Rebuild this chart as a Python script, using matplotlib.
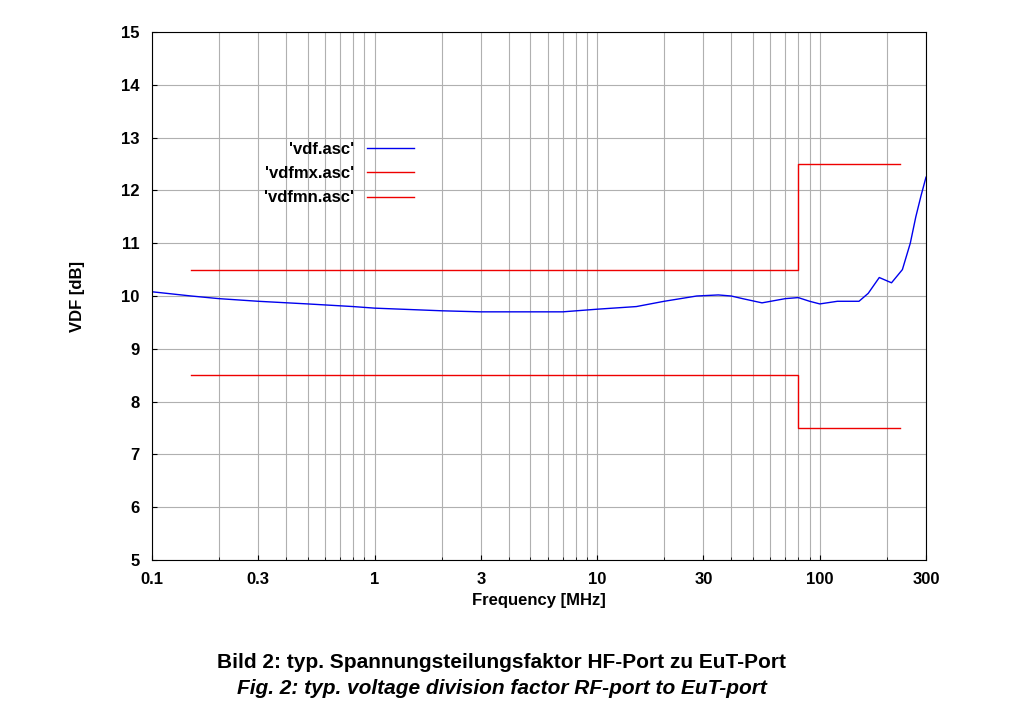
import matplotlib
matplotlib.use("Agg")
import matplotlib.pyplot as plt
from matplotlib.ticker import FixedLocator, LogLocator, NullFormatter

freq = [0.1, 0.15, 0.2, 0.3, 0.5, 0.8, 1, 2, 3, 5, 7, 10, 15, 20, 28, 35, 40, 45, 55, 70, 80, 90, 100, 120, 150, 165, 185, 210, 235, 255, 270, 285, 300]
vdf = [10.08, 10.0, 9.95, 9.9, 9.85, 9.8, 9.77, 9.72, 9.7, 9.7, 9.7, 9.75, 9.8, 9.9, 10.0, 10.02, 10.0, 9.95, 9.87, 9.95, 9.97, 9.9, 9.85, 9.9, 9.9, 10.05, 10.35, 10.25, 10.5, 11.0, 11.5, 11.9, 12.25]
lim_f = [0.15, 80, 80, 230]
vdfmx = [10.5, 10.5, 12.5, 12.5]
vdfmn = [8.5, 8.5, 7.5, 7.5]
xticks = [0.1, 0.3, 1, 3, 10, 30, 100, 300]
xlabels = ["0.1", "0.3", "1", "3", "10", "30", "100", "300"]

plt.rcParams['font.family'] = ['Liberation Sans', 'DejaVu Sans']
fig = plt.figure(figsize=(10.11, 7.28), dpi=100)
ax = fig.add_axes([152/1011, 1-560/728, 774/1011, 528/728])
ax.plot(freq, vdf, color='#0000ee', lw=1, label="'vdf.asc'")
ax.plot(lim_f, vdfmx, color='#ee0000', lw=1, label="'vdfmx.asc'")
ax.plot(lim_f, vdfmn, color='#ee0000', lw=1, label="'vdfmn.asc'")
ax.set_xscale('log')
ax.set_xlim(0.1, 300)
ax.set_ylim(5, 15)
ax.set_yticks(range(5, 16))
ax.xaxis.set_major_locator(FixedLocator(xticks))
ax.set_xticklabels(xlabels)
ax.xaxis.set_minor_locator(LogLocator(base=10, subs=range(1, 10)))
ax.xaxis.set_minor_formatter(NullFormatter())
ax.grid(True, which='both', axis='x', color='#b0b0b0', lw=0.8)
ax.grid(True, which='major', axis='y', color='#b0b0b0', lw=0.8)
ax.tick_params(which='both', direction='in', labelsize=12, pad=9)
for t in ax.get_xticklabels() + ax.get_yticklabels():
    t.set_fontweight('bold')
ax.set_xlabel('Frequency [MHz]', fontsize=12, fontweight='bold', labelpad=4)
ax.set_ylabel('VDF [dB]', fontsize=12, fontweight='bold', labelpad=26)
leg = ax.legend(loc='upper left', bbox_to_anchor=(0.125, 0.82), markerfirst=False,
                frameon=False, fontsize=12, handlelength=2.8, labelspacing=0.55)
for t in leg.get_texts():
    t.set_fontweight('bold'); t.set_ha('right')
fig.text(0.496, 1-662/728, 'Bild 2: typ. Spannungsteilungsfaktor HF-Port zu EuT-Port',
         ha='center', va='center', fontsize=15, fontweight='bold')
fig.text(0.496, 1-688/728, 'Fig. 2: typ. voltage division factor RF-port to EuT-port',
         ha='center', va='center', fontsize=15, fontweight='bold', style='italic')
fig.savefig('out.png', dpi=100)
